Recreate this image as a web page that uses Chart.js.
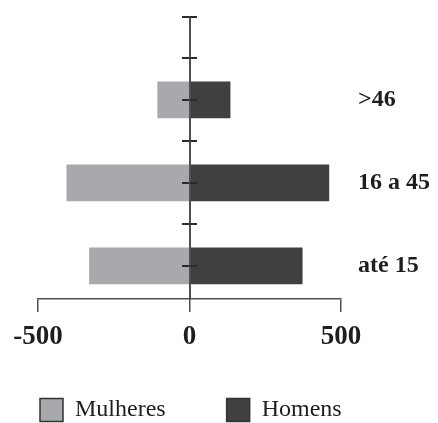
<!DOCTYPE html>
<html>
<head>
<meta charset="utf-8">
<script src="https://cdn.jsdelivr.net/npm/chart.js@4.4.1/dist/chart.umd.min.js"></script>
<style>
  body { margin: 0; background: #fff; }
</style>
</head>
<body>
<canvas id="grafico" width="438" height="423"></canvas>
<script>
const categories = ['>46', '16 a 45', 'até 15'];
const mulheres = [-105, -405, -330];
const homens = [134, 460, 372];
const xTicks = [-500, 0, 500];

const serif = "'Liberation Serif', 'Times New Roman', serif";
const eixoCor = '#4f4f4f';
const tickCor = '#2b2b2b';

// category i sits at position (n - i) on the linear y scale, top to bottom
const pos = i => categories.length - i;
const toPoints = arr => arr.map((v, i) => ({ x: v, y: pos(i) }));
// marks on the centre axis: at each category and halfway between, plus the top cap
const yTicks = categories.flatMap((c, i) => [pos(i), pos(i) + 0.5]).concat(categories.length + 1);

const yBase = {
  type: 'linear',
  min: 0.6,
  max: categories.length + 1,
  bounds: 'data',
  offset: false,
  position: { x: 0 },
  ticks: { display: false },
  afterBuildTicks: s => { s.ticks = yTicks.map(v => ({ value: v })); },
  border: { display: true, color: eixoCor, width: 2, z: 1 },
};

// let the x tick labels spill below the axis box
const soltaRotulos = {
  id: 'soltaRotulos',
  afterLayout: chart => { chart.scales.x.bottom = chart.height; }
};

const ctx = document.getElementById('grafico').getContext('2d');
const grafico = new Chart(ctx, {
  type: 'bar',
  data: {
    datasets: [{
      label: 'Mulheres',
      data: toPoints(mulheres),
      backgroundColor: '#a8a9ad',
      borderWidth: 0,
      grouped: false,
      barThickness: 36,
      xAxisID: 'x',
      yAxisID: 'y'
    }, {
      label: 'Homens',
      data: toPoints(homens),
      backgroundColor: '#404040',
      borderWidth: 0,
      grouped: false,
      barThickness: 36,
      xAxisID: 'x',
      yAxisID: 'y'
    }]
  },
  options: {
    indexAxis: 'y',
    responsive: false,
    animation: false,
    layout: { padding: { top: 17, left: -21, right: 0, bottom: -9 } },
    scales: {
      x: {
        type: 'linear',
        min: xTicks[0],
        max: xTicks[xTicks.length - 1],
        afterBuildTicks: s => { s.ticks = xTicks.map(v => ({ value: v })); },
        afterFit: s => { s.height = 38; s.paddingLeft = 38; },
        ticks: {
          padding: 9,
          color: '#1e1e1e',
          font: { family: serif, size: 27, weight: 'bold' }
        },
        grid: { drawOnChartArea: false, tickLength: 13, color: eixoCor, lineWidth: 1.5 },
        border: { color: eixoCor, width: 1.5 }
      },
      y: {
        ...yBase,
        grid: { offset: false, drawOnChartArea: false, tickLength: 7, color: tickCor, lineWidth: 2, z: 1 }
      },
      y2: {
        ...yBase,
        border: { display: false },
        grid: { offset: false, drawOnChartArea: false, tickLength: -7, color: tickCor, lineWidth: 2, z: 1 }
      },
      rotulos: {
        type: 'linear',
        axis: 'y',
        position: 'right',
        min: 0.6,
        max: categories.length + 1,
        bounds: 'data',
        offset: false,
        afterBuildTicks: s => { s.ticks = categories.map((c, i) => ({ value: pos(i) })); },
        afterFit: s => { s.width = 97; s.paddingTop = 0; s.paddingBottom = 0; },
        ticks: {
          padding: 17,
          color: '#1e1e1e',
          font: { family: serif, size: 24, weight: 'bold' },
          callback: v => categories[categories.length - v]
        },
        grid: { display: false, drawTicks: false },
        border: { display: false }
      }
    },
    plugins: {
      tooltip: { enabled: false },
      legend: {
        position: 'bottom',
        align: 'start',
        labels: {
          boxWidth: 23,
          boxHeight: 23,
          padding: 61,
          color: '#1e1e1e',
          font: { family: serif, size: 24 },
          generateLabels: chart => Chart.defaults.plugins.legend.labels.generateLabels(chart)
            .map(l => ({ ...l, strokeStyle: '#333', lineWidth: 1.5 }))
        }
      }
    }
  },
  plugins: [soltaRotulos]
});
</script>
</body>
</html>
